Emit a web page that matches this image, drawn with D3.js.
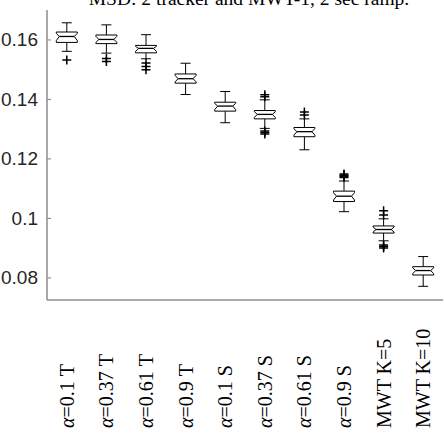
<!DOCTYPE html>
<html>
<head>
<meta charset="utf-8">
<script src="https://cdn.jsdelivr.net/npm/d3@7"></script>
<style>
  html, body { margin: 0; padding: 0; background: #fff; }
  svg { display: block; }
</style>
</head>
<body>
<div id="chart"></div>
<script>
// categories along the x axis ("α" prefix drawn in math italic)
const categories = ['α=0.1 T', 'α=0.37 T', 'α=0.61 T', 'α=0.9 T', 'α=0.1 S',
  'α=0.37 S', 'α=0.61 S', 'α=0.9 S', 'MWT K=5', 'MWT K=10'];

// box statistics
const whiskerHigh = [0.1656, 0.1649, 0.1616, 0.1520, 0.1425, 0.1397, 0.1333, 0.1124, 0.0997, 0.0870];
const upperQuart  = [0.1625, 0.1615, 0.1580, 0.1484, 0.1389, 0.1361, 0.1304, 0.1090, 0.0973, 0.0836];
const medians     = [0.1610, 0.1600, 0.1570, 0.1468, 0.1376, 0.1348, 0.1290, 0.1073, 0.0961, 0.0823];
const lowerQuart  = [0.1590, 0.1586, 0.1555, 0.1453, 0.1359, 0.1333, 0.1273, 0.1055, 0.0949, 0.0808];
const whiskerLow  = [0.1560, 0.1554, 0.1535, 0.1415, 0.1320, 0.1301, 0.1229, 0.1021, 0.0923, 0.0770];
const outliers = [
  [0.1531],
  [0.1536, 0.1526],
  [0.1521, 0.1509, 0.1498],
  [],
  [],
  [0.1414, 0.1407, 0.1292, 0.1287, 0.1282],
  [0.1356, 0.1346],
  [0.1148, 0.1143, 0.1140, 0.1136],
  [0.1024, 0.1010, 0.0909, 0.0904, 0.0899],
  []
];

const yTicks = [0.08, 0.1, 0.12, 0.14, 0.16];
const titleText = 'MSD: 2 tracker and MWT-1, 2 sec ramp.';

const width = 444, height = 438;
const plotLeft = 47, plotRight = 443, plotTop = 10, plotBottom = 300;

const svg = d3.select('#chart').append('svg')
  .attr('width', width)
  .attr('height', height);

const x = d3.scaleLinear().domain([0.5, categories.length + 0.5]).range([plotLeft, plotRight]);
const y = d3.scaleLinear().domain([0.0724, 0.1699]).range([plotBottom, plotTop]);

// title, mostly clipped at the top edge
svg.append('text')
  .attr('x', 249)
  .attr('y', 5)
  .attr('text-anchor', 'middle')
  .style('font-family', '"Liberation Serif", "Times New Roman", serif')
  .style('font-size', '19.5px')
  .attr('fill', '#000')
  .text(titleText);

// left axis, ticks pointing inward
const yAxis = svg.append('g')
  .attr('transform', `translate(${plotLeft},0)`)
  .call(d3.axisLeft(y)
    .tickValues(yTicks)
    .tickSize(-4)
    .tickPadding(9)
    .tickFormat(d => String(+d.toFixed(2))));
yAxis.select('.domain').remove();
yAxis.selectAll('.tick line').attr('stroke', '#808080');
yAxis.selectAll('.tick text')
  .attr('fill', '#262626')
  .style('font-family', '"Liberation Sans", Arial, sans-serif')
  .style('font-size', '19px');

// axis lines
svg.append('line')
  .attr('x1', plotLeft).attr('x2', plotLeft)
  .attr('y1', plotTop).attr('y2', plotBottom)
  .attr('stroke', '#8c8c8c').attr('stroke-width', 1.5);
svg.append('line')
  .attr('x1', plotLeft).attr('x2', plotRight)
  .attr('y1', plotBottom).attr('y2', plotBottom)
  .attr('stroke', '#8c8c8c').attr('stroke-width', 1.5);

// boxes
const boxHalf = 10.5, notchInset = 3, capHalf = 5, plusHalf = 4.5;
const g = svg.append('g').attr('fill', 'none').attr('stroke', '#000').attr('stroke-width', 1);

categories.forEach((cat, i) => {
  const cx = x(i + 1);
  const yq3 = y(upperQuart[i]), yq1 = y(lowerQuart[i]), ym = y(medians[i]);
  const nHi = ym + (yq3 - ym) * 0.7;
  const nLo = ym + (yq1 - ym) * 0.7;

  // whiskers
  g.append('line').attr('x1', cx).attr('x2', cx).attr('y1', yq3).attr('y2', y(whiskerHigh[i]));
  g.append('line').attr('x1', cx).attr('x2', cx).attr('y1', yq1).attr('y2', y(whiskerLow[i]));
  g.append('line').attr('x1', cx - capHalf).attr('x2', cx + capHalf)
    .attr('y1', y(whiskerHigh[i])).attr('y2', y(whiskerHigh[i]));
  g.append('line').attr('x1', cx - capHalf).attr('x2', cx + capHalf)
    .attr('y1', y(whiskerLow[i])).attr('y2', y(whiskerLow[i]));

  // notched box
  const path = d3.path();
  path.moveTo(cx - boxHalf, yq3);
  path.lineTo(cx + boxHalf, yq3);
  path.lineTo(cx + boxHalf, nHi);
  path.lineTo(cx + boxHalf - notchInset, ym);
  path.lineTo(cx + boxHalf, nLo);
  path.lineTo(cx + boxHalf, yq1);
  path.lineTo(cx - boxHalf, yq1);
  path.lineTo(cx - boxHalf, nLo);
  path.lineTo(cx - boxHalf + notchInset, ym);
  path.lineTo(cx - boxHalf, nHi);
  path.closePath();
  g.append('path').attr('d', path.toString()).attr('fill', '#fff');

  // median
  g.append('line')
    .attr('x1', cx - boxHalf + notchInset).attr('x2', cx + boxHalf - notchInset)
    .attr('y1', ym).attr('y2', ym)
    .attr('stroke-width', 1.3);

  // outliers as "+"
  outliers[i].forEach(v => {
    const oy = y(v);
    g.append('path')
      .attr('d', `M${cx - plusHalf},${oy}H${cx + plusHalf}M${cx},${oy - plusHalf}V${oy + plusHalf}`)
      .attr('stroke-width', 1.5);
  });

  // rotated category label, start anchored at the bottom
  const label = svg.append('text')
    .attr('transform', `translate(${cx},428) rotate(-90)`)
    .attr('text-anchor', 'start')
    .attr('dy', '0.35em')
    .attr('fill', '#000')
    .style('font-family', '"Liberation Serif", "Times New Roman", serif')
    .style('font-size', '20px');
  if (cat.startsWith('α')) {
    label.append('tspan').style('font-style', 'italic').text('α');
    label.append('tspan').text(cat.slice(1));
  } else {
    label.text(cat);
  }
});
</script>
</body>
</html>
